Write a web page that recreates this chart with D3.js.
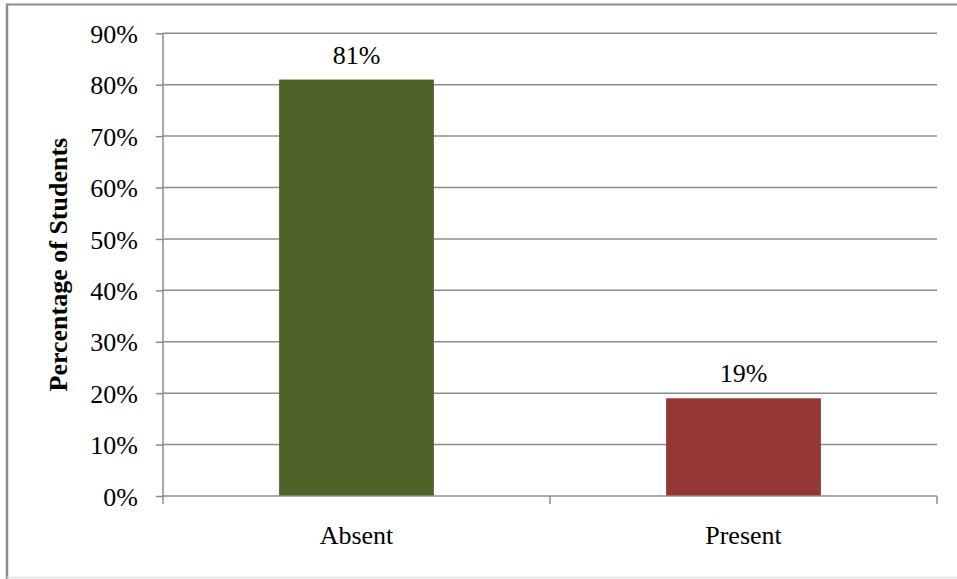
<!DOCTYPE html>
<html>
<head>
<meta charset="utf-8">
<script src="https://cdn.jsdelivr.net/npm/d3@7"></script>
<style>
  html, body { margin: 0; padding: 0; background: #fff; }
  svg { display: block; }
  text { font-family: "Liberation Serif", "Times New Roman", serif; fill: #000; }
</style>
</head>
<body>
<svg id="chart" width="957" height="579"></svg>
<script>
// Share of students by attendance status
const categories = ["Absent", "Present"];
const values = [81, 19];
const barColors = ["#4F6228", "#953735"];
const yTicks = [0, 10, 20, 30, 40, 50, 60, 70, 80, 90];
const yTitle = "Percentage of Students";

const svg = d3.select("#chart");
const W = 957, H = 579;
const FS = 26;
const plot = { left: 163, right: 937, top: 33.3, bottom: 496 };

// Outer frame
svg.append("line").attr("x1", 6).attr("x2", W).attr("y1", 4.5).attr("y2", 4.5)
  .attr("stroke", "#8c8c8c").attr("stroke-width", 2);
svg.append("line").attr("x1", 7).attr("x2", 7).attr("y1", 4).attr("y2", H)
  .attr("stroke", "#8c8c8c").attr("stroke-width", 2.5);
svg.append("line").attr("x1", 7).attr("x2", W).attr("y1", 577.5).attr("y2", 577.5)
  .attr("stroke", "#e3e3e3").attr("stroke-width", 1.5);

const x = d3.scaleBand().domain(categories).range([plot.left, plot.right]).padding(0);
const y = d3.scaleLinear().domain([0, 90]).range([plot.bottom, plot.top]);

// Horizontal gridlines
svg.append("g").selectAll("line").data(yTicks.filter(d => d > 0)).join("line")
  .attr("x1", plot.left).attr("x2", plot.right)
  .attr("y1", d => y(d)).attr("y2", d => y(d))
  .attr("stroke", "#8c8c8c").attr("stroke-width", 1.5);

// Bars
const barW = x.bandwidth() * 0.4;
svg.append("g").selectAll("rect").data(categories).join("rect")
  .attr("x", d => x(d) + (x.bandwidth() - barW) / 2)
  .attr("width", barW)
  .attr("y", (d, i) => y(values[i]))
  .attr("height", (d, i) => y(0) - y(values[i]))
  .attr("fill", (d, i) => barColors[i]);

// Value labels
svg.append("g").selectAll("text").data(categories).join("text")
  .attr("x", d => x(d) + x.bandwidth() / 2)
  .attr("y", (d, i) => y(values[i]) - 16)
  .attr("text-anchor", "middle")
  .attr("font-size", FS)
  .text((d, i) => values[i] + "%");

// Y axis
const yAxis = d3.axisLeft(y).tickValues(yTicks).tickSize(7).tickPadding(18)
  .tickFormat(d => d + "%");
const gy = svg.append("g").attr("transform", `translate(${plot.left},0)`).call(yAxis);
gy.select(".domain").attr("stroke", "#8c8c8c").attr("stroke-width", 1.5)
  .attr("d", `M0,${plot.top}V${plot.bottom}`);
gy.selectAll(".tick line").attr("stroke", "#8c8c8c").attr("stroke-width", 1.5);
gy.selectAll(".tick text").attr("font-size", FS).attr("font-family", "Liberation Serif, serif")
  .attr("fill", "#000").attr("dy", "0.35em");

// X axis
const xAxis = d3.axisBottom(x).tickSize(0).tickPadding(30);
const gx = svg.append("g").attr("transform", `translate(0,${plot.bottom})`).call(xAxis);
gx.select(".domain").attr("stroke", "#8c8c8c").attr("stroke-width", 1.5)
  .attr("d", `M${plot.left},0H${plot.right}`);
gx.selectAll(".tick text").attr("font-size", FS).attr("font-family", "Liberation Serif, serif")
  .attr("fill", "#000");
// Category boundary ticks
const bounds = [plot.left, ...categories.slice(1).map(c => x(c)), plot.right];
gx.append("g").selectAll("line").data(bounds).join("line")
  .attr("x1", d => d).attr("x2", d => d).attr("y1", 0).attr("y2", 8)
  .attr("stroke", "#8c8c8c").attr("stroke-width", 1.5);

// Y axis title
svg.append("text")
  .attr("transform", `translate(67,${(plot.top + plot.bottom) / 2}) rotate(-90)`)
  .attr("text-anchor", "middle")
  .attr("font-size", FS)
  .attr("font-weight", "bold")
  .text(yTitle);
</script>
</body>
</html>
